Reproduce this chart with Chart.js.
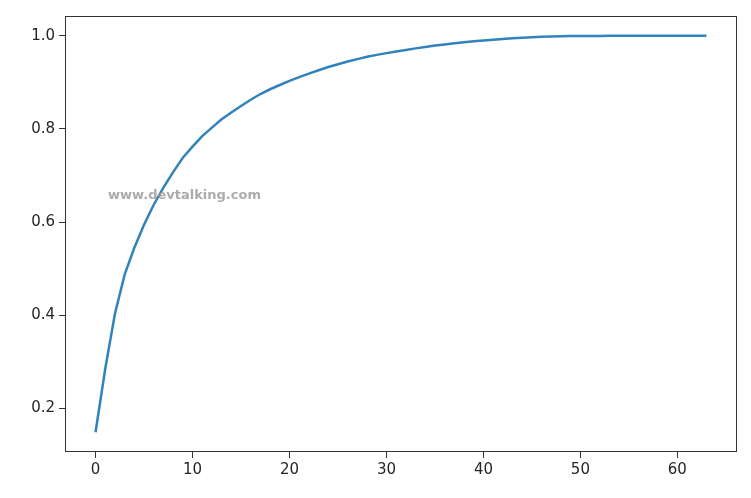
<!DOCTYPE html>
<html>
<head>
<meta charset="utf-8">
<script src="https://cdn.jsdelivr.net/npm/chart.js@4/dist/chart.umd.min.js"></script>
<style>
  html, body { margin: 0; padding: 0; background: #fff; }
  #wrap { width: 751px; height: 498px; }
</style>
</head>
<body>
<div id="wrap"><canvas id="pcaChart" width="751" height="498"></canvas></div>
<script>
// number of components (x) and cumulative explained variance ratio (y)
const components = [0, 1, 2, 3, 4, 5, 6, 7, 8, 9, 10, 11, 12, 13, 14, 15,
    16, 17, 18, 19, 20, 21, 22, 23, 24, 25, 26, 27, 28, 29, 30, 31,
    32, 33, 34, 35, 36, 37, 38, 39, 40, 41, 42, 43, 44, 45, 46, 47,
    48, 49, 50, 51, 52, 53, 54, 55, 56, 57, 58, 59, 60, 61, 62, 63];
const cumVariance = [0.1489, 0.2851, 0.4031, 0.4872, 0.5450, 0.5942, 0.6373, 0.6740,
    0.7075, 0.7383, 0.7620, 0.7847, 0.8029, 0.8207, 0.8354, 0.8495,
    0.8627, 0.8751, 0.8853, 0.8944, 0.9033, 0.9112, 0.9189, 0.9261,
    0.9331, 0.9391, 0.9448, 0.9500, 0.9549, 0.9591, 0.9629, 0.9664,
    0.9698, 0.9731, 0.9761, 0.9791, 0.9816, 0.9839, 0.9861, 0.9883,
    0.9902, 0.9917, 0.9933, 0.9947, 0.9958, 0.9969, 0.9979, 0.9986,
    0.9992, 0.9996, 0.9998, 0.9999, 0.9999, 1.0000, 1.0000, 1.0000,
    1.0000, 1.0000, 1.0000, 1.0000, 1.0000, 1.0000, 1.0000, 1.0000];
const xTicks = [0, 10, 20, 30, 40, 50, 60];
const yTicks = [0.2, 0.4, 0.6, 0.8, 1.0];
const watermark = 'www.devtalking.com';

// 축 테두리 + 워터마크
const framePlugin = {
    id: 'frame',
    afterDraw(chart) {
        const { ctx, chartArea: a } = chart;
        ctx.save();
        ctx.strokeStyle = '#333';
        ctx.lineWidth = 1;
        ctx.strokeRect(a.left + 0.5, a.top + 0.5, a.right - a.left - 1, a.bottom - a.top - 1);
        ctx.fillStyle = 'rgba(150,150,150,0.8)';
        ctx.font = 'bold 13px "DejaVu Sans"';
        ctx.textBaseline = 'middle';
        ctx.fillText(watermark, 108, 196);
        ctx.restore();
    }
};

const ctx = document.getElementById('pcaChart').getContext('2d');
new Chart(ctx, {
    type: 'line',
    data: {
        datasets: [{
            data: components.map((c, i) => ({ x: c, y: cumVariance[i] })),
            borderColor: '#3283bb',
            borderWidth: 2.5,
            pointRadius: 0,
            fill: false,
            tension: 0
        }]
    },
    options: {
        responsive: false,
        animation: false,
        layout: { padding: { left: 0, right: 14, top: 16, bottom: 0 } },
        plugins: { legend: { display: false }, tooltip: { enabled: false } },
        scales: {
            x: {
                type: 'linear',
                min: -3.15,
                max: 66.15,
                afterBuildTicks: s => { s.ticks = xTicks.map(v => ({ value: v })); },
                afterFit: s => { s.height = 46; },
                grid: { drawOnChartArea: false, drawTicks: true, tickLength: 6, tickColor: '#333' },
                border: { display: false },
                ticks: {
                    color: '#262626',
                    font: { family: 'DejaVu Sans', size: 15 },
                    padding: 3,
                    maxRotation: 0,
                    callback: v => String(v)
                }
            },
            y: {
                min: 0.1064,
                max: 1.0426,
                afterBuildTicks: s => { s.ticks = yTicks.map(v => ({ value: v })); },
                afterFit: s => { s.width = 65; },
                grid: { drawOnChartArea: false, drawTicks: true, tickLength: 6, tickColor: '#333' },
                border: { display: false },
                ticks: {
                    color: '#262626',
                    font: { family: 'DejaVu Sans', size: 15 },
                    padding: 4,
                    callback: v => v.toFixed(1)
                }
            }
        }
    },
    plugins: [framePlugin]
});
</script>
</body>
</html>
